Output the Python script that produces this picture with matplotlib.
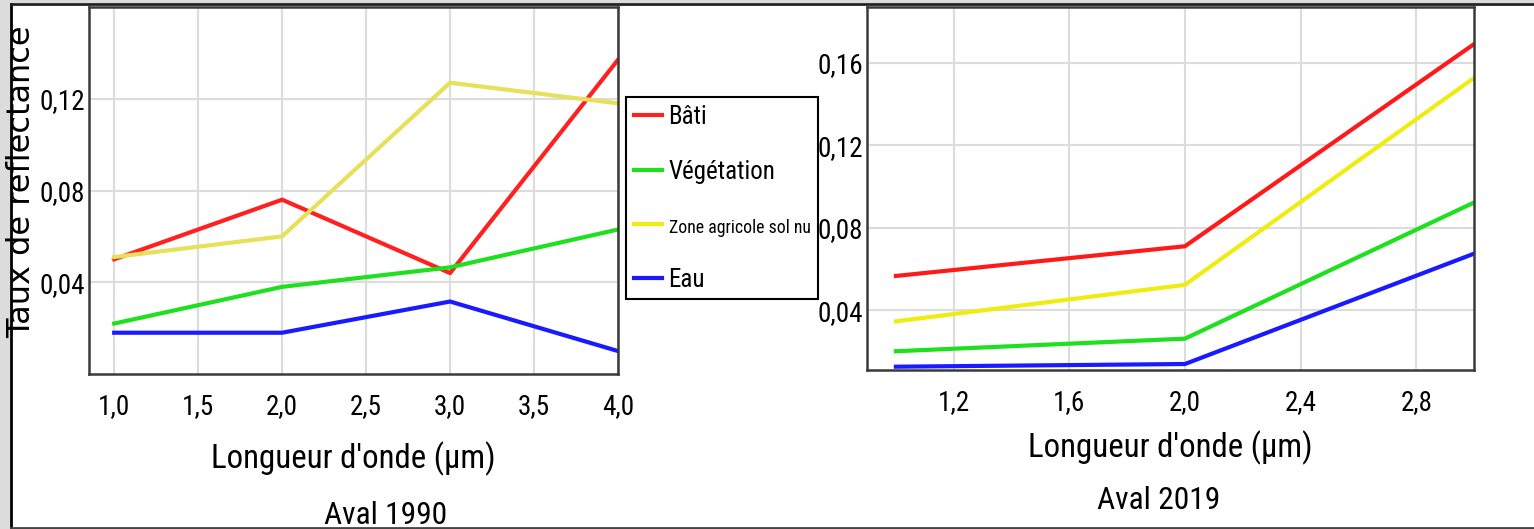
import matplotlib
matplotlib.use("Agg")
import matplotlib.pyplot as plt
from matplotlib import font_manager
from matplotlib.font_manager import FontProperties
from matplotlib.textpath import TextPath
from matplotlib.patches import Rectangle
from matplotlib.lines import Line2D

# reflectance values
x_1990 = [1.0, 2.0, 3.0, 4.0]
bati_1990 = [0.050, 0.076, 0.044, 0.137]
vege_1990 = [0.022, 0.038, 0.0465, 0.063]
agri_1990 = [0.051, 0.060, 0.127, 0.118]
eau_1990 = [0.018, 0.018, 0.0316, 0.010]

x_2019 = [1.0, 2.0, 3.0]
bati_2019 = [0.0566, 0.071, 0.169]
vege_2019 = [0.0201, 0.0262, 0.0922]
agri_2019 = [0.0346, 0.0523, 0.1526]
eau_2019 = [0.0126, 0.0139, 0.0674]

labels = ["Bâti", "Végétation", "Zone agricole sol nu", "Eau"]
xticks_1990 = [1.0, 1.5, 2.0, 2.5, 3.0, 3.5, 4.0]
yticks_1990 = [0.04, 0.08, 0.12]
xticks_2019 = [1.2, 1.6, 2.0, 2.4, 2.8]
yticks_2019 = [0.04, 0.08, 0.12, 0.16]


# the original uses a tall, narrow font: look for a condensed face
def stretch_of(f):
    s = f.stretch
    if isinstance(s, str):
        s = font_manager.stretch_dict.get(s, 500)
    return s


def weight_of(f):
    w = f.weight
    if isinstance(w, str):
        w = font_manager.weight_dict.get(w, 400)
    return w


cands = [f for f in font_manager.fontManager.ttflist
         if stretch_of(f) < 500 and f.style == "normal" and weight_of(f) == 400
         and "Mono" not in f.name and "CJK" not in f.name and "Serif" not in f.name]
pref = ["Liberation Sans Narrow", "Roboto Condensed", "Open Sans Condensed", "Noto Sans"]
cands.sort(key=lambda f: (pref.index(f.name) if f.name in pref else 99, -stretch_of(f)))
if cands:
    narrow = FontProperties(fname=cands[0].fname)
else:
    have = set(f.name for f in font_manager.fontManager.ttflist)
    narrow = FontProperties(family="Roboto" if "Roboto" in have else "DejaVu Sans")


def fit(s, px):
    # font size (pt) that makes string s about px pixels wide at 100 dpi
    w = TextPath((0, 0), s, size=10, prop=narrow).get_extents().width * 100 / 72
    return 10 * px / w


def fp(size):
    p = narrow.copy()
    p.set_size(size)
    return p


tick_fp = fp(fit("0,12", 43))
xlab_fp = fp(fit("Longueur d'onde (µm)", 280))
title_fp = fp(fit("Aval 1990", 121))
leg_size = fit("Végétation", 105)
zone_size = fit("Zone agricole sol nu", 140)

W, H = 1534, 529
fig = plt.figure(figsize=(W / 100, H / 100), dpi=100)
fig.patch.set_facecolor("white")

# outer frame of the screenshot
fig.patches.append(Rectangle((0, 0), 10 / W, 1, transform=fig.transFigure,
                             facecolor="#dcdcdc", edgecolor="none", zorder=0))
fig.patches.append(Rectangle((0, 1 - 3 / H), 1, 3 / H, transform=fig.transFigure,
                             facecolor="#dcdcdc", edgecolor="none", zorder=0))
fig.lines.append(Line2D([11 / W, 11 / W], [0, 1 - 4 / H], transform=fig.transFigure,
                        color="black", lw=2))
fig.lines.append(Line2D([11 / W, 1], [1 - 4 / H, 1 - 4 / H], transform=fig.transFigure,
                        color="#222222", lw=2))
fig.lines.append(Line2D([11 / W, 1], [1.5 / H, 1.5 / H], transform=fig.transFigure,
                        color="#444444", lw=2))


def style(ax, xt, yt):
    ax.set_xticks(xt)
    ax.set_xticklabels([f"{v:.1f}".replace(".", ",") for v in xt], fontproperties=tick_fp)
    ax.set_yticks(yt)
    ax.set_yticklabels([f"{v:.2f}".replace(".", ",") for v in yt], fontproperties=tick_fp)
    ax.tick_params(length=0, pad=3)
    ax.tick_params(axis="x", pad=14)
    ax.grid(True, color="#dcdcdc", lw=1.5)
    ax.set_axisbelow(True)
    for s in ax.spines.values():
        s.set_color("#3a3a3a")
        s.set_linewidth(1.8)


# left panel: Aval 1990
ax1 = fig.add_axes([89 / W, 1 - 374 / H, 529 / W, 367 / H])
ax1.plot(x_1990, bati_1990, color="#ff2020", lw=3)
ax1.plot(x_1990, vege_1990, color="#1ee01e", lw=3)
ax1.plot(x_1990, agri_1990, color="#e6e05a", lw=3)
ax1.plot(x_1990, eau_1990, color="#1a1aff", lw=3)
ax1.set_xlim(0.85, 4.0)
ax1.set_ylim(0.0, 0.16)
style(ax1, xticks_1990, yticks_1990)
ax1.set_xlabel("Longueur d'onde (µm)", fontproperties=xlab_fp, labelpad=15)
ax1.text(0.56, -0.345, "Aval 1990", transform=ax1.transAxes, ha="center", va="top",
         fontproperties=title_fp)

# right panel: Aval 2019
ax2 = fig.add_axes([867 / W, 1 - 370 / H, 607 / W, 363 / H])
ax2.plot(x_2019, bati_2019, color="#ff1a1a", lw=3)
ax2.plot(x_2019, vege_2019, color="#1ee01e", lw=3)
ax2.plot(x_2019, agri_2019, color="#f0ec10", lw=3)
ax2.plot(x_2019, eau_2019, color="#1a1aff", lw=3)
ax2.set_xlim(0.9, 3.0)
ax2.set_ylim(0.011, 0.187)
style(ax2, xticks_2019, yticks_2019)
ax2.set_xlabel("Longueur d'onde (µm)", fontproperties=xlab_fp, labelpad=10)
ax2.text(0.48, -0.32, "Aval 2019", transform=ax2.transAxes, ha="center", va="top",
         fontproperties=title_fp)

fig.text(22 / W, 1 - 182 / H, "Taux de reflectance", rotation=90, ha="center",
         va="center", fontfamily="DejaVu Sans", fontsize=23)

handles = [Line2D([], [], color=c, lw=3) for c in ["#ff2020", "#1ee01e", "#f0ec10", "#1a1aff"]]
leg = fig.legend(handles, labels, loc="upper left", bbox_to_anchor=(626 / W, 1 - 97 / H),
                 bbox_transform=fig.transFigure, borderaxespad=0, fancybox=False,
                 edgecolor="black", framealpha=1, prop=fp(leg_size),
                 handlelength=1.15, handletextpad=0.25, labelspacing=1.25, borderpad=0.3)
leg.get_frame().set_linewidth(1.5)
leg.get_texts()[2].set_fontsize(zone_size)

fig.savefig("out.png", dpi=100)
